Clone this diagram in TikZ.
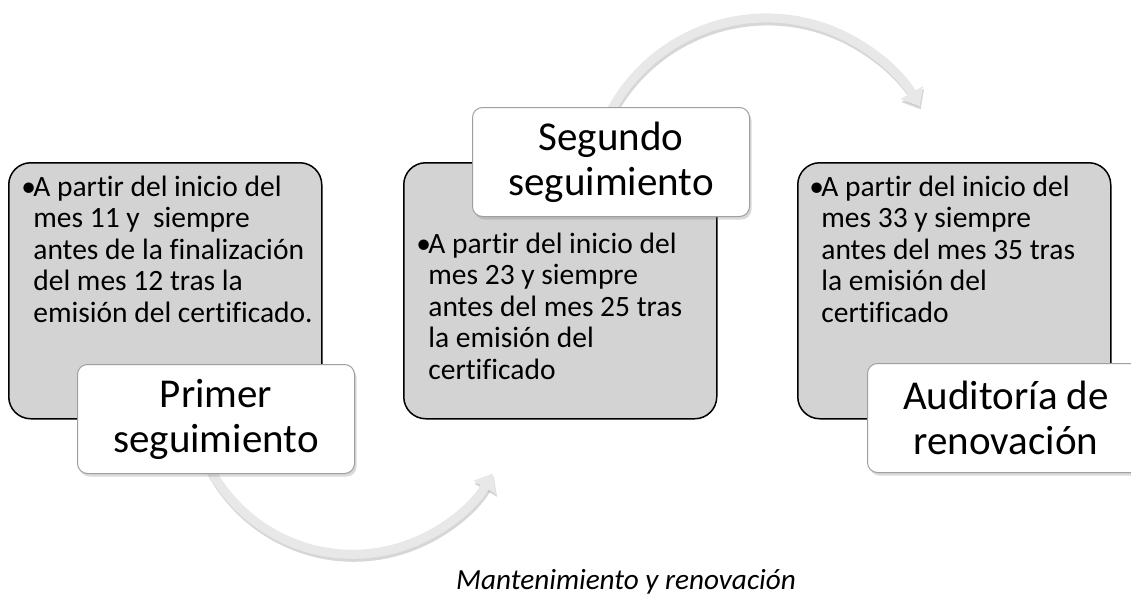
\documentclass[tikz,border=0pt]{standalone}
\usepackage{fontspec}
\setmainfont{Carlito}[Ligatures={NoCommon}]
\usetikzlibrary{positioning, arrows.meta, shadows}
\definecolor{boxgray}{RGB}{211,211,211}
\definecolor{arrowgray}{RGB}{232,232,232}
\tikzset{every picture/.style={line width=0.75pt}}

\begin{document}
\begin{tikzpicture}[x=1pt, y=1pt,
    greybox/.style={draw=black, line width=1.5pt, fill=boxgray, rounded corners=22pt,
        minimum width=313pt, minimum height=256pt, anchor=north west},
    titlebox/.style={draw=gray!75, line width=1pt, fill=white, rounded corners=10pt,
        minimum width=277pt, minimum height=109pt, anchor=north west, align=center,
        font=\fontsize{41}{45}\selectfont,
        drop shadow={shadow xshift=2pt, shadow yshift=-3pt, opacity=0.3}},
    bullettext/.style={align=left, inner sep=0pt, font=\fontsize{29.5}{31.5}\selectfont},
    cyclearrow/.style={line width=9pt, draw=arrowgray, -{Triangle[width=25pt, length=16pt]}},
    arrowshadow/.style={line width=9pt, draw=black!45, opacity=0.35,
        -{Triangle[width=25pt, length=16pt]}, transform canvas={shift={(1pt,-3pt)}}}]

    \useasboundingbox (0,0) rectangle (1131,-597);
    \clip (0,0) rectangle (1131,-597);

    % cycle arrows
    \coordinate (lowstart) at (200.9,-447.9);
    \coordinate (topstart) at (606.2,-120.1);
    \draw[arrowshadow] (lowstart) arc[start angle=200, end angle=330, radius=161.6pt];
    \draw[cyclearrow] (lowstart) arc[start angle=200, end angle=330, radius=161.6pt];
    \draw[arrowshadow] (topstart) arc[start angle=155, end angle=30, radius=176.9pt];
    \draw[cyclearrow] (topstart) arc[start angle=155, end angle=30, radius=176.9pt];

    % grey boxes
    \node[greybox] (b1) at (8,-162) {};
    \node[greybox] (b2) at (403,-162) {};
    \node[greybox] (b3) at (797,-162) {};

    \node[bullettext, below right=12pt and 25pt of b1.north west] (x1)
        {\strut\llap{\makebox[12pt][l]{•}}A partir del inicio del\\
         mes 11 y\ \ siempre\\
         antes de la finalización\\
         del mes 12 tras la\\
         emisión del certificado.};
    \node[bullettext, below right=69pt and 25pt of b2.north west] (x2)
        {\strut\llap{\makebox[12pt][l]{•}}A partir del inicio del\\
         mes 23 y siempre\\
         antes del mes 25 tras\\
         la emisión del\\
         certificado};
    \node[bullettext, below right=12pt and 24pt of b3.north west] (x3)
        {\strut\llap{\makebox[12pt][l]{•}}A partir del inicio del\\
         mes 33 y siempre\\
         antes del mes 35 tras\\
         la emisión del\\
         certificado};

    % title boxes
    \node[titlebox] (t1) at (77,-364) {Primer\\seguimiento};
    \node[titlebox] (t2) at (472,-107) {Segundo\\seguimiento};
    \node[titlebox] (t3) at (867,-363) {Auditoría de\\renovación};

    \node[anchor=base, font=\fontsize{29.2}{32}\selectfont\itshape] (cap) at (626,-589)
        {Mantenimiento y renovación};
\end{tikzpicture}
\end{document}
